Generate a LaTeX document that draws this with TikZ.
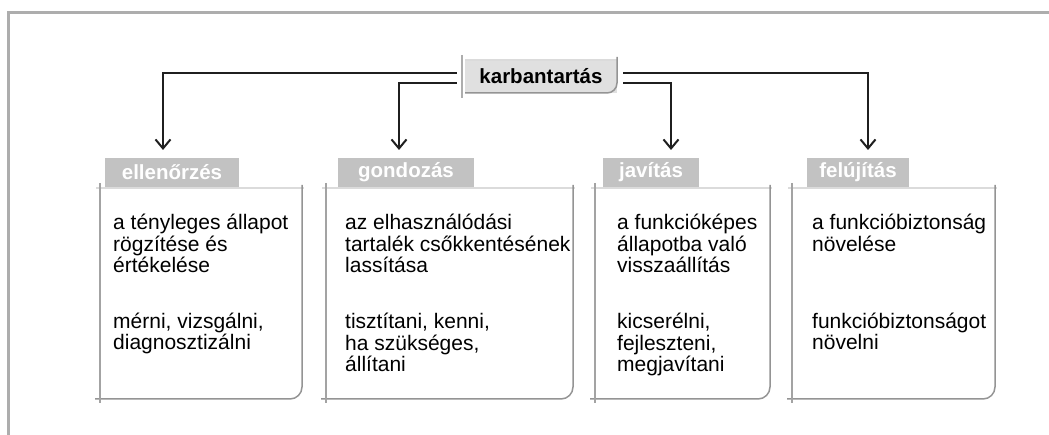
\documentclass[tikz,border=0pt]{standalone}
\usepackage{fontspec}
\setmainfont{Liberation Sans}
\usetikzlibrary{arrows.meta}
\definecolor{framegray}{gray}{0.68}
\definecolor{tabgray}{gray}{0.76}
\definecolor{kfill}{gray}{0.88}
\definecolor{lightline}{gray}{0.86}
\definecolor{leftline}{gray}{0.64}
\definecolor{rightline}{gray}{0.58}
\definecolor{inkdark}{gray}{0.12}
\tikzset{
  conn/.style={draw=inkdark, line width=2bp, -{Straight Barb[length=9bp,width=15bp,line width=2bp]}},
  tabbox/.style={fill=tabgray, inner sep=0pt, text=white, font=\fontsize{20.5bp}{22bp}\selectfont\bfseries, minimum height=29bp},
  kbox/.style={fill=kfill, inner sep=0pt, font=\fontsize{20.5bp}{22bp}\selectfont\bfseries, minimum width=152bp, minimum height=33bp},
  txt/.style={inner sep=0pt, align=left, anchor=base west, font=\fontsize{21bp}{21.5bp}\selectfont},
  topline/.style={draw=lightline, line width=2bp},
  leftedge/.style={draw=leftline, line width=2.5bp},
  rightedge/.style={draw=rightline, line width=1.5bp, rounded corners=12bp},
}
\begin{document}
\begin{tikzpicture}[x=1bp,y=-1bp]
\useasboundingbox (0,0) rectangle (1049,435);
% outer frame
\draw[draw=framegray, line width=3bp] (8,435) -- (8,13) -- (1049,13);

% central node
\node[kbox] (k) at (541,76.5) {karbantartás};
\draw[draw=lightline, line width=1.5bp] (465,60) -- (617,60);
\draw[draw=rightline, line width=1.5bp, rounded corners=10bp] (617,57) -- (617,93) -- (465,93);
\draw[draw=framegray, line width=2bp] (462,55) -- (462,98);

% column boxes: left x, right x
\foreach \xl/\xr in {100/302, 326/573, 595/770, 792/995}{
  \draw[topline] (\xl-4,188) -- (\xr+2,188);
  \draw[rightedge] (\xr,185) -- (\xr,399) -- (\xl-5,399);
  \draw[leftedge] (\xl,183) -- (\xl,403);
}

% tabs
\node[tabbox, minimum width=134bp] (t1) at (172,172.5) {ellenőrzés};
\node[tabbox, minimum width=136bp] (t2) at (406,172.5) {gondozás};
\node[tabbox, minimum width=96bp]  (t3) at (651,172.5) {javítás};
\node[tabbox, minimum width=102bp] (t4) at (858,172.5) {felújítás};

% connectors
\coordinate (a1) at (163,150);
\coordinate (a2) at (399,150);
\coordinate (a3) at (671,150);
\coordinate (a4) at (868,150);
\draw[conn] ([xshift=-8bp,yshift=3.5bp]k.west) -| (a1);
\draw[conn] ([xshift=-8bp,yshift=-6.5bp]k.west) -| (a2);
\draw[conn] ([xshift=6bp,yshift=-6.5bp]k.east) -| (a3);
\draw[conn] ([xshift=6bp,yshift=3.5bp]k.east) -| (a4);

% texts (anchor = baseline of last line)
\node[txt] (p1a) at (113,273) {a tényleges állapot\\rögzítése és\\értékelése};
\node[txt] (p1b) at (113,350) {mérni, vizsgálni,\\diagnosztizálni};
\node[txt] (p2a) at (345,273) {az elhasználódási\\tartalék csőkkentésének\\lassítása};
\node[txt] (p2b) at (345,372) {tisztítani, kenni,\\ha szükséges,\\állítani};
\node[txt] (p3a) at (617,273) {a funkcióképes\\állapotba való\\visszaállítás};
\node[txt] (p3b) at (617,372) {kicserélni,\\fejleszteni,\\megjavítani};
\node[txt] (p4a) at (812,251.5) {a funkcióbiztonság\\növelése};
\node[txt] (p4b) at (812,350) {funkcióbiztonságot\\növelni};
\end{tikzpicture}
\end{document}
